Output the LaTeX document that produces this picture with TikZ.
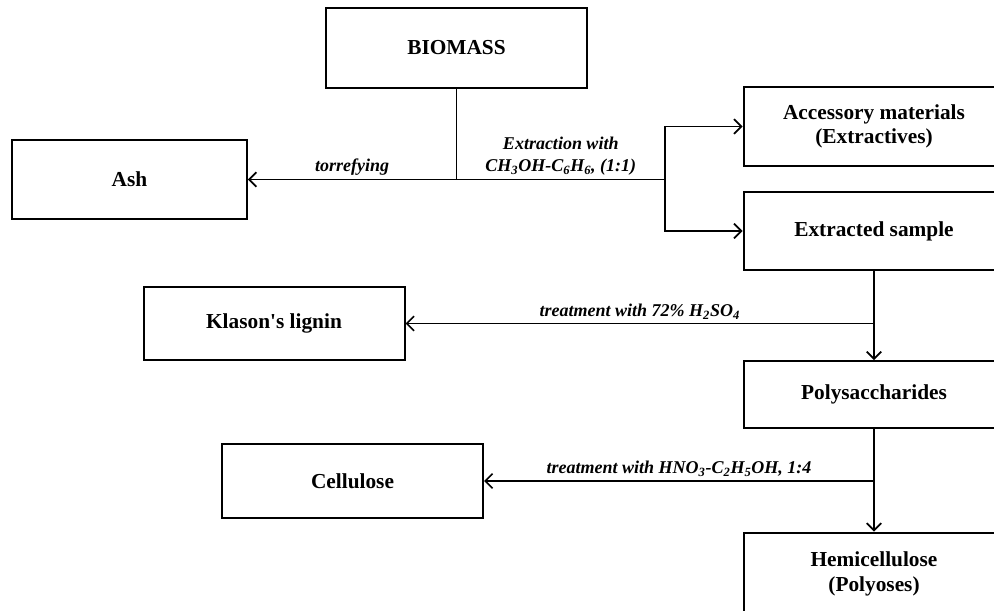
\documentclass[tikz,border=0pt]{standalone}
\usepackage{fontspec}
\setmainfont{Liberation Serif}
\usetikzlibrary{arrows.meta}
\tikzset{
  procbox/.style={draw,line width=1.5pt,align=center,inner sep=0pt,
    minimum width=195.75pt,font=\fontsize{16}{18.5}\selectfont\bfseries},
  lbl/.style={align=center,inner sep=2.5pt,
    font=\fontsize{13.5}{16.5}\selectfont\bfseries\itshape},
  link/.style={line width=1.3pt},
  flow/.style={link,-{Straight Barb[length=5.5pt,width=11pt,line width=1.3pt]}}
}
\begin{document}
\begin{tikzpicture}[x=0.75pt,y=-0.75pt]
    \useasboundingbox (0,0) rectangle (994,610);
    \clip (0,0) rectangle (994,610);
    % boxes
    \node[procbox,minimum height=60pt] (biomass) at (456.5,48) {BIOMASS};
    \node[procbox,minimum width=176pt,minimum height=59pt] (ash) at (129.5,179.5) {Ash};
    \node[procbox,minimum height=59pt] (extractives) at (874,126.5) {Accessory materials\\(Extractives)};
    \node[procbox,minimum height=58.5pt] (extracted) at (874,231) {Extracted sample};
    \node[procbox,minimum height=55pt] (lignin) at (274,323.5) {Klason\textquotesingle s lignin};
    \node[procbox,minimum height=50pt] (poly) at (874,394.5) {Polysaccharides};
    \node[procbox,minimum height=55.5pt] (cellulose) at (352.5,481) {Cellulose};
    \node[procbox,minimum height=62pt] (hemi) at (874,574) {Hemicellulose\\(Polyoses)};
    % branch points
    \coordinate (split) at (biomass.south |- ash.east);
    \coordinate (fork) at (665,179.5);
    % connectors
    \draw[link] (biomass.south) -- (split);
    \draw[flow] (split) -- node[lbl,above] {torrefying} (ash.east);
    \draw[link] (split) -- node[lbl,above]
      {Extraction with\\CH\textsubscript{3}OH-C\textsubscript{6}H\textsubscript{6}, (1:1)} (fork);
    \draw[flow] (fork) |- (extractives.west);
    \draw[flow] (fork) |- (extracted.west);
    \draw[flow] (extracted.south) -- (poly.north);
    \draw[flow] (extracted.south |- lignin.east) -- node[lbl,above]
      {treatment with 72\% H\textsubscript{2}SO\textsubscript{4}} (lignin.east);
    \draw[flow] (poly.south) -- (hemi.north);
    \draw[flow] (poly.south |- cellulose.east) -- node[lbl,above]
      {treatment with HNO\textsubscript{3}-C\textsubscript{2}H\textsubscript{5}OH, 1:4} (cellulose.east);
  \end{tikzpicture}
\end{document}
